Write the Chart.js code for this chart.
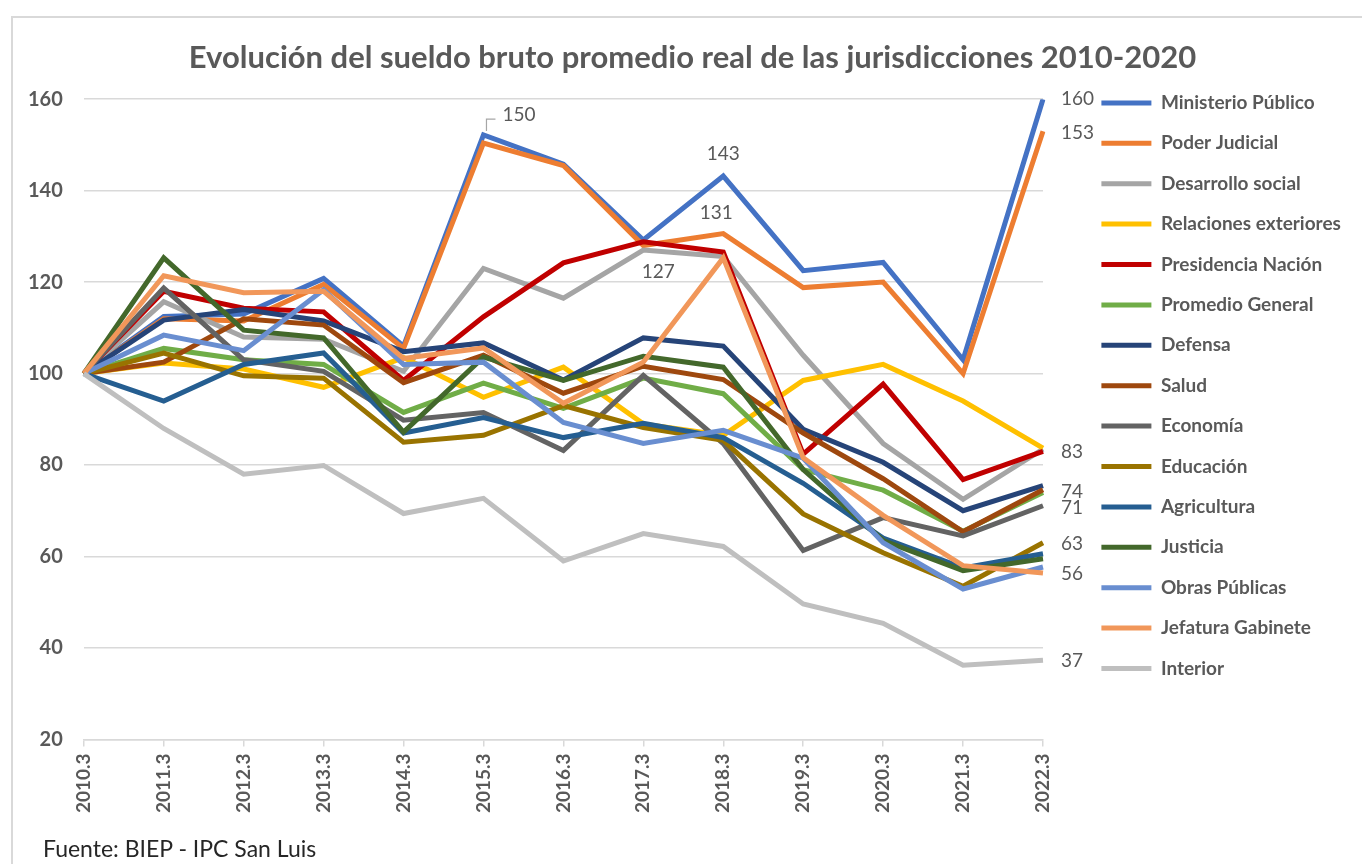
<!DOCTYPE html>
<html>
<head>
<meta charset="utf-8">
<script src="https://cdn.jsdelivr.net/npm/chart.js@4"></script>
<style>
  html, body { margin: 0; padding: 0; background: #fff; overflow: hidden; }
  #frame { position: absolute; left: 11px; top: 16px; width: 1400px; height: 900px; border: 2px solid #d9d9d9; }
  #wrap { position: absolute; left: 0; top: 0; width: 1362px; height: 864px; }
  #source { position: absolute; left: 43px; top: 834px; font: 23px Lato, "Open Sans", sans-serif; color: #262626; }
</style>
</head>
<body>
<div id="frame"></div>
<div id="wrap"><canvas id="chart"></canvas></div>
<div id="source">Fuente: BIEP - IPC San Luis</div>
<script>
// periods (x axis)
const categories = ['2010.3', '2011.3', '2012.3', '2013.3', '2014.3', '2015.3', '2016.3',
                    '2017.3', '2018.3', '2019.3', '2020.3', '2021.3', '2022.3'];

// real average gross salary index, 2010.3 = 100
const ministerioPublico    = [100, 112.5, 113, 120.8, 106, 152.2, 145.8, 129.2, 143.2, 122.5, 124.3, 103, 160];
const poderJudicial        = [100, 112, 111.5, 119.5, 105.5, 150.4, 145.5, 128, 130.6, 118.8, 120, 100, 153];
const desarrolloSocial     = [100, 115.7, 108, 107.5, 100.5, 123, 116.5, 127, 125.6, 104, 84.7, 72.5, 83.5];
const relacionesExteriores = [100, 102.3, 101, 97, 103.5, 94.8, 101.4, 89, 86.5, 98.5, 102, 94, 83.7];
const presidenciaNacion    = [100, 118, 114.3, 113.5, 98.5, 112.4, 124.2, 128.8, 126.6, 82.4, 97.7, 76.8, 83];
const promedioGeneral      = [100, 105.5, 103, 102, 91.5, 97.9, 92.4, 99, 95.6, 79, 74.5, 65.5, 74];
const defensa              = [100, 111.7, 114, 111.5, 104.8, 106.7, 98.6, 107.8, 106, 87.8, 80.6, 70, 75.5];
const salud                = [100, 102.5, 112, 110.6, 98, 104, 95.7, 101.6, 98.7, 87, 77, 65.4, 74.6];
const economia             = [100, 118.7, 103, 100.5, 89.8, 91.5, 83.2, 99.6, 84.7, 61.3, 68.5, 64.5, 71.1];
const educacion            = [100, 104.5, 99.5, 99, 85, 86.5, 93, 88.2, 85.4, 69.3, 60.8, 53.5, 63];
const agricultura          = [100, 94, 102, 104.5, 87, 90.4, 86, 89.1, 86, 76, 64, 57.5, 60.6];
const justicia             = [100, 125.3, 109.5, 107.8, 87.2, 103.6, 98.5, 103.8, 101.4, 79, 63.5, 56.9, 59.5];
const obrasPublicas        = [100, 108.4, 105, 118.3, 102, 102.5, 89.3, 84.7, 87.6, 81.5, 63, 52.9, 57.7];
const jefaturaGabinete     = [100, 121.4, 117.7, 118, 103.3, 105.6, 93.5, 102.5, 125.3, 81.6, 69, 58, 56.4];
const interior             = [100, 88, 78, 79.9, 69.4, 72.7, 59, 65, 62.2, 49.6, 45.4, 36.2, 37.3];

// y axis ticks
const yMin = 20;
const yMax = 160;
const yStep = 20;

const series = [
    ['Ministerio Público', ministerioPublico, '#4472C4'],
    ['Poder Judicial', poderJudicial, '#ED7D31'],
    ['Desarrollo social', desarrolloSocial, '#A5A5A5'],
    ['Relaciones exteriores', relacionesExteriores, '#FFC000'],
    ['Presidencia Nación', presidenciaNacion, '#C00000'],
    ['Promedio General', promedioGeneral, '#70AD47'],
    ['Defensa', defensa, '#264478'],
    ['Salud', salud, '#9E480E'],
    ['Economía', economia, '#636363'],
    ['Educación', educacion, '#997300'],
    ['Agricultura', agricultura, '#255E91'],
    ['Justicia', justicia, '#43682B'],
    ['Obras Públicas', obrasPublicas, '#698ED0'],
    ['Jefatura Gabinete', jefaturaGabinete, '#F1975A'],
    ['Interior', interior, '#BFBFBF']
];

// which points carry a value label (series index, point index) and where the text sits
const valueLabels = [
    { s: 0, i: 12, dx: 18, dy: 0, align: 'left' },
    { s: 1, i: 12, dx: 18, dy: 2, align: 'left' },
    { s: 4, i: 12, dx: 18, dy: 1, align: 'left' },
    { s: 5, i: 12, dx: 18, dy: -1, align: 'left' },
    { s: 8, i: 12, dx: 18, dy: 2, align: 'left' },
    { s: 9, i: 12, dx: 18, dy: 1, align: 'left' },
    { s: 13, i: 12, dx: 18, dy: 1, align: 'left' },
    { s: 14, i: 12, dx: 18, dy: 1, align: 'left' },
    { s: 1, i: 5, dx: 19, dy: -28, align: 'left', leader: true },
    { s: 0, i: 8, dx: 0, dy: -22, align: 'center' },
    { s: 1, i: 8, dx: -7, dy: -21, align: 'center' },
    { s: 2, i: 7, dx: 15, dy: 22, align: 'center' }
];

const font = 'Lato, "Open Sans", sans-serif';

const valueLabelPlugin = {
    id: 'valueLabels',
    beforeInit(chart) {
        // fixed legend width so the long names fit
        const legend = chart.legend;
        const fit = legend.fit;
        legend.fit = function () {
            fit.call(this);
            this.width = 298;
        };
    },
    afterDatasetsDraw(chart) {
        const ctx = chart.ctx;
        ctx.save();
        ctx.font = '19px ' + font;
        ctx.fillStyle = '#595959';
        ctx.textBaseline = 'middle';
        valueLabels.forEach(function (l) {
            const pt = chart.getDatasetMeta(l.s).data[l.i];
            const v = chart.data.datasets[l.s].data[l.i];
            ctx.textAlign = l.align;
            ctx.fillText(String(Math.round(v)), pt.x + l.dx, pt.y + l.dy);
            if (l.leader) {
                ctx.strokeStyle = '#a6a6a6';
                ctx.lineWidth = 1.2;
                ctx.beginPath();
                ctx.moveTo(pt.x + 3, pt.y - 12);
                ctx.lineTo(pt.x + 3, pt.y - 24);
                ctx.lineTo(pt.x + 12, pt.y - 24);
                ctx.stroke();
            }
        });
        ctx.restore();
    }
};

new Chart(document.getElementById('chart'), {
    type: 'line',
    data: {
        labels: categories,
        datasets: series.map(function (s, k) {
            return {
                label: s[0],
                data: s[1],
                borderColor: s[2],
                backgroundColor: s[2],
                borderWidth: 5,
                pointRadius: 0,
                tension: 0,
                order: -k
            };
        })
    },
    options: {
        responsive: true,
        maintainAspectRatio: false,
        animation: false,
        layout: { padding: { left: 7, right: -16, top: 0, bottom: 44 } },
        plugins: {
            title: {
                display: true,
                text: 'Evolución del sueldo bruto promedio real de las jurisdicciones 2010-2020',
                color: '#595959',
                font: { family: font, size: 31, weight: 'bold' },
                padding: { top: 39, bottom: 23 }
            },
            legend: {
                position: 'right',
                align: 'start',
                title: { display: true, text: ' ', font: { size: 10 }, padding: { top: 60, bottom: 0 } },
                labels: {
                    usePointStyle: true,
                    pointStyle: 'line',
                    pointStyleWidth: 50,
                    color: '#595959',
                    font: { family: font, size: 19, weight: 'bold' },
                    padding: 21.4,
                    sort: function (a, b) { return a.datasetIndex - b.datasetIndex; }
                }
            },
            tooltip: { enabled: false }
        },
        scales: {
            x: {
                offset: false,
                grid: { drawOnChartArea: false, drawTicks: true, tickLength: 7, color: '#d9d9d9', lineWidth: 1.5 },
                border: { display: true, color: '#d9d9d9', width: 1.5 },
                ticks: {
                    minRotation: 90,
                    maxRotation: 90,
                    autoSkip: false,
                    padding: 7,
                    color: '#595959',
                    font: { family: font, size: 19, weight: 'bold' }
                }
            },
            y: {
                min: yMin,
                max: yMax,
                grid: { color: '#d9d9d9', lineWidth: 1.5, drawTicks: false },
                border: { display: false },
                ticks: {
                    stepSize: yStep,
                    padding: 21,
                    color: '#595959',
                    font: { family: font, size: 20, weight: 'bold' }
                }
            },
            gap: {
                position: 'right',
                display: true,
                grid: { display: false },
                border: { display: false },
                ticks: { display: false },
                afterFit: function (s) { s.width = 37; }
            }
        }
    },
    plugins: [valueLabelPlugin]
});
</script>
</body>
</html>
